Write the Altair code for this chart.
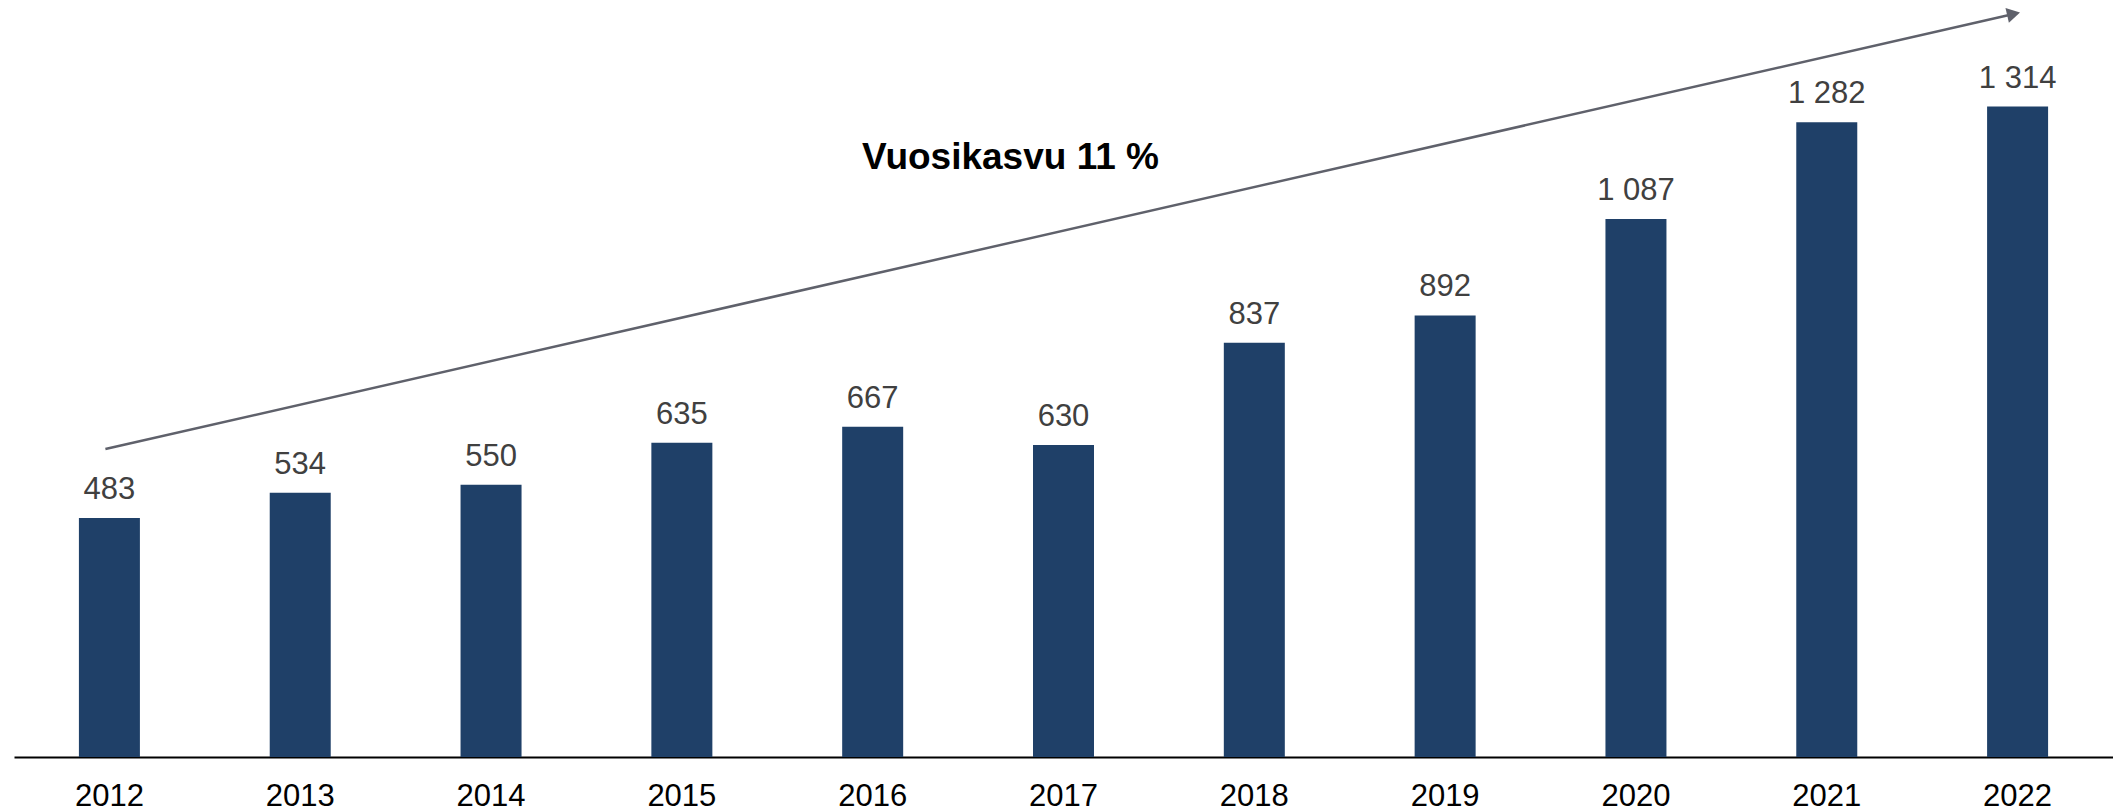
import altair as alt
import pandas as pd

years = ["2012", "2013", "2014", "2015", "2016", "2017", "2018", "2019", "2020", "2021", "2022"]
values = [483, 534, 550, 635, 667, 630, 837, 892, 1087, 1282, 1314]
labels = [f"{v:,}".replace(",", " ") for v in values]

arrow_years = ["2012", "2022"]
arrow_values = [622, 1501]

note_text = ["Vuosikasvu 11 %"]
note_year = ["2017"]
note_value = [1210]

df = pd.DataFrame({"year": years, "value": values, "label": labels})
arrow_df = pd.DataFrame({"year": arrow_years, "value": arrow_values})
head_df = arrow_df.iloc[[1]]
note_df = pd.DataFrame({"year": note_year, "value": note_value, "text": note_text})

FONT = "Liberation Sans"

x = alt.X(
    "year:N",
    sort=years,
    scale=alt.Scale(paddingInner=0, paddingOuter=0),
    axis=alt.Axis(
        title=None,
        labelAngle=0,
        labelFont=FONT,
        labelFontSize=31,
        labelColor="#000000",
        labelPadding=24,
        ticks=False,
        tickSize=0,
        domainColor="#000000",
        domainWidth=2,
        grid=False,
    ),
)
y = alt.Y("value:Q", scale=alt.Scale(domain=[0, 1513], nice=False, zero=True), axis=None)

bars = alt.Chart(df).mark_bar(size=61, color="#1F4068").encode(x=x, y=y)

texts = alt.Chart(df).mark_text(
    font=FONT, fontSize=31, color="#404040", baseline="alphabetic", dy=-19
).encode(x=x, y=y, text="label:N")

arrow = alt.Chart(arrow_df).mark_line(color="#5F616B", strokeWidth=2.5, xOffset=-4).encode(x=x, y=y)

head = alt.Chart(head_df).mark_point(
    shape="triangle-up", filled=True, size=230, angle=77, color="#5F616B", opacity=1, xOffset=-4
).encode(x=x, y=y)

note = alt.Chart(note_df).mark_text(
    font=FONT, fontSize=37, fontWeight="bold", color="#000000", baseline="middle", dx=-53
).encode(x=x, y=y, text="text:N")

chart = (
    alt.layer(bars, texts, arrow, head, note)
    .properties(
        width=2099,
        height=749,
        background="#ffffff",
        autosize=alt.AutoSizeParams(type="none"),
        padding={"left": 6, "top": 0, "right": 0, "bottom": 60},
    )
    .configure_view(strokeWidth=0, stroke="transparent")
)

chart.save("out.html", embed_options={"renderer": "svg", "actions": False})
